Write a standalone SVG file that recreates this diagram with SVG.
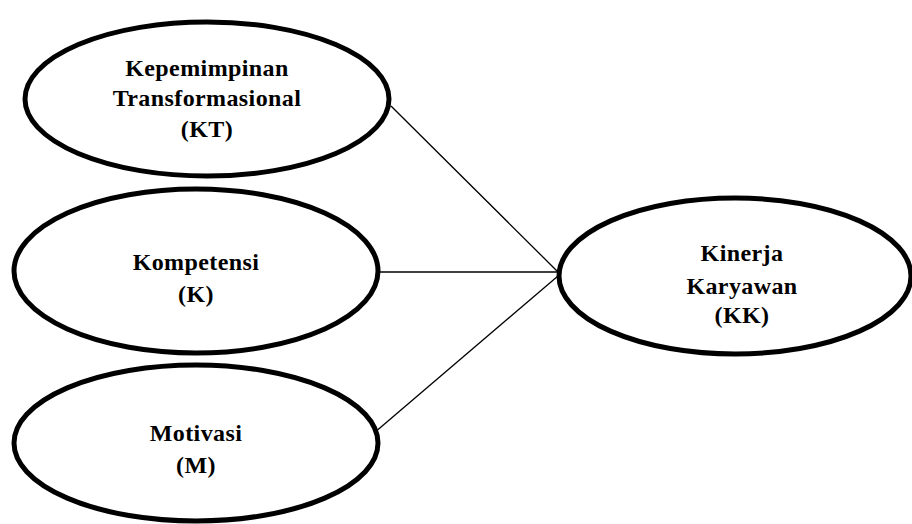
<svg xmlns="http://www.w3.org/2000/svg" width="912" height="524" viewBox="0 0 912 524">
<style>
.node ellipse{fill:#fff;stroke:#000;stroke-width:5}
.node text{font-family:"Liberation Serif","Times New Roman",serif;font-weight:bold;font-size:24px;letter-spacing:0.4px;text-anchor:middle;fill:#000}
.conn line{stroke:#000;stroke-width:1.3}
</style>
<rect width="912" height="524" fill="#fff"/>
<g class="conn" id="connectors">
<line x1="391" y1="106" x2="558" y2="272"/>
<line x1="378" y1="272" x2="558" y2="272"/>
<line x1="374" y1="433" x2="558" y2="276"/>
</g>
<g class="node" id="KT">
<ellipse cx="207" cy="99" rx="182" ry="77"/>
<text x="207" y="76">Kepemimpinan</text>
<text x="207" y="106">Transformasional</text>
<text x="207" y="137">(KT)</text>
</g>
<g class="node" id="K">
<ellipse cx="196" cy="271" rx="182" ry="82"/>
<text x="196" y="270">Kompetensi</text>
<text x="196" y="302">(K)</text>
</g>
<g class="node" id="M">
<ellipse cx="196" cy="443" rx="182" ry="78"/>
<text x="196" y="441">Motivasi</text>
<text x="196" y="473">(M)</text>
</g>
<g class="node" id="KK">
<ellipse cx="735" cy="276" rx="176" ry="78"/>
<text x="742" y="261">Kinerja</text>
<text x="742" y="294">Karyawan</text>
<text x="742" y="323">(KK)</text>
</g>
</svg>
